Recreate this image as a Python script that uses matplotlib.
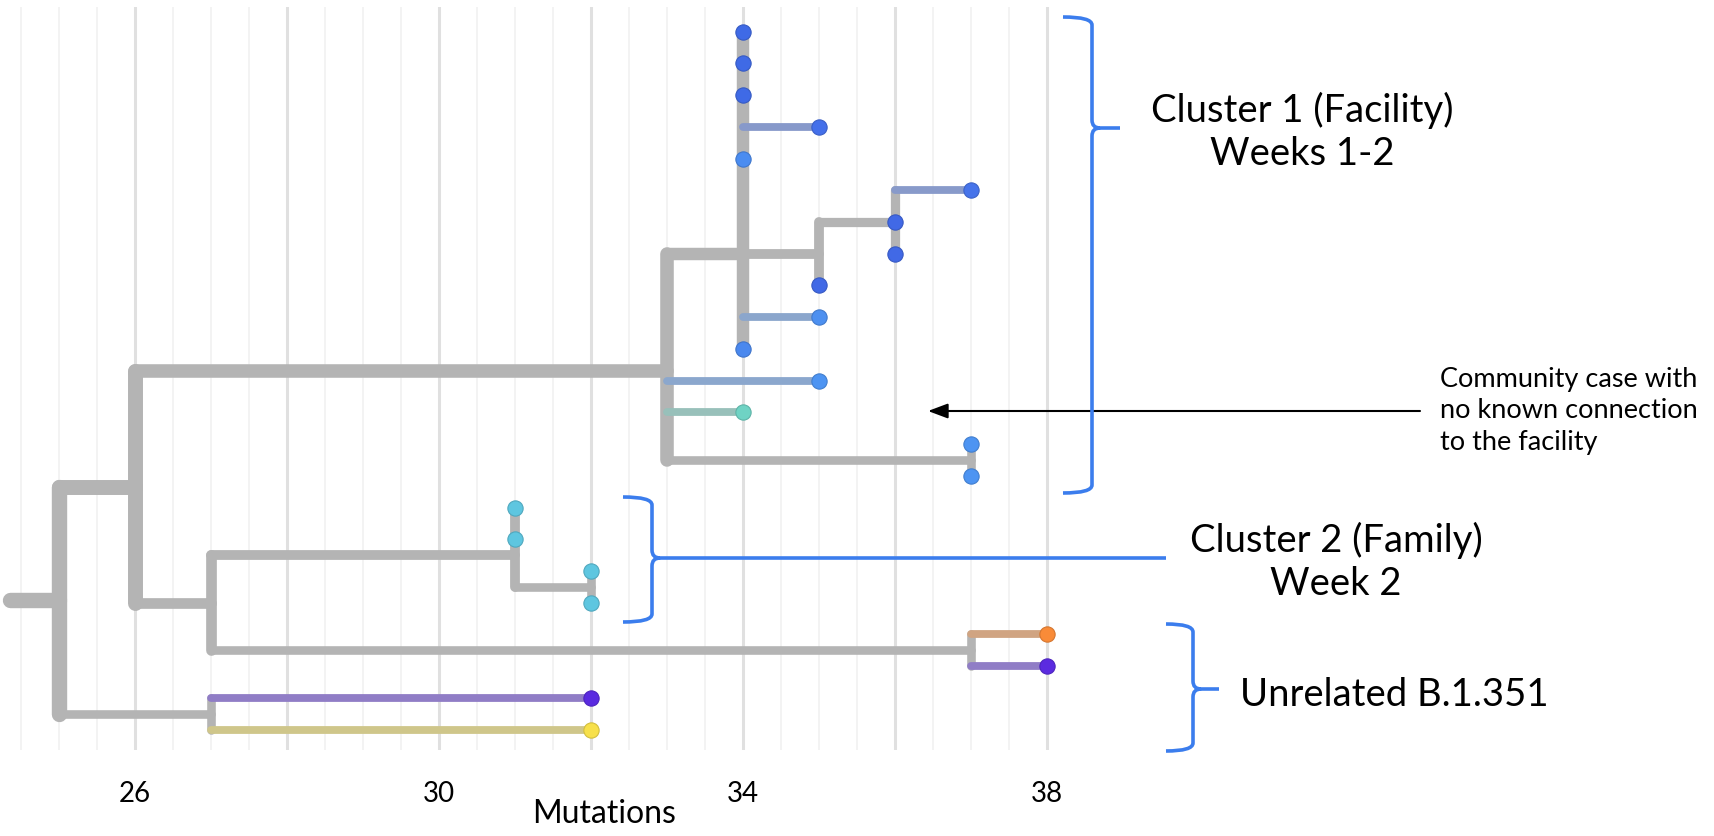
import numpy as np
import matplotlib
matplotlib.use('Agg')
import matplotlib.pyplot as plt
import matplotlib.transforms as mtransforms
from matplotlib.path import Path
from matplotlib.patches import PathPatch
from matplotlib.colors import to_rgb

plt.rcParams['font.family'] = ['Lato', 'DejaVu Sans']

# internal nodes of the tree (mutations from root, display row)
node_names = ['root', 'A', 'C1', 'C1a', 'C1b', 'C1c', 'C1d', 'B', 'C2', 'C2a', 'U1', 'U2']
node_parent = [None, 'root', 'A', 'C1', 'C1a', 'C1b', 'C1', 'A', 'B', 'C2', 'B', 'root']
node_mut = [25, 26, 33, 34, 35, 36, 37, 27, 31, 32, 37, 27]
node_row = [17.93, 14.35, 10.7, 7, 7, 6, 13.5, 18.0, 16.5, 17.5, 19.5, 21.5]
root_start = 24.35

# tips, top to bottom
tip_parent = ['C1a', 'C1a', 'C1a', 'C1a', 'C1a', 'C1c', 'C1c', 'C1c', 'C1b', 'C1a', 'C1a',
              'C1', 'C1', 'C1d', 'C1d', 'C2', 'C2', 'C2a', 'C2a', 'U1', 'U1', 'U2', 'U2']
tip_mut = [34, 34, 34, 35, 34, 37, 36, 36, 35, 35, 34, 35, 34, 37, 37,
           31, 31, 32, 32, 38, 38, 32, 32]
tip_color = ['#3f6ae6', '#3f6ae6', '#3f6ae6', '#4470ea', '#4a8cf0', '#4674ea', '#4169e6',
             '#4169e6', '#4169e6', '#4d90f0', '#4a88ee', '#4d94f2', '#6fd3c4', '#4d94f2',
             '#4d94f2', '#5ec6e0', '#5ec6e0', '#5ec6e0', '#5ec6e0', '#f98b38', '#5b2be0',
             '#5a2ae0', '#f7e04a']

tick_vals = [26, 30, 34, 38]

W, H = 1715, 836
GRAY = '#b4b4b4'
BLUE = '#3b7ded'

fig = plt.figure(figsize=(W / 100, H / 100), dpi=100)
ax = fig.add_axes([0, (H - 750) / H, 1, 743 / H])
ax.set_xlim(24.2197, 24.2197 + W / 76.0)
ax.set_ylim(22.645, -0.779)
for s in ax.spines.values():
    s.set_visible(False)
ax.set_yticks([])
ax.set_xticks(tick_vals)
ax.set_xticklabels([str(v) for v in tick_vals])
ax.tick_params(axis='x', length=0, labelsize=20, pad=22)
ax.set_xlabel('Mutations', fontsize=23)
ax.xaxis.set_label_coords(604 / W, -64 / 743)
ax.xaxis.label.set_va('center')

# grid
for g in np.arange(24.5, 38.01, 0.5):
    if g % 2 == 0:
        ax.axvline(g, color='#e0e0e0', lw=2.2, zorder=0)
    else:
        ax.axvline(g, color='#f1f1f1', lw=1.2, zorder=0)

# tree bookkeeping
idx = {n: i for i, n in enumerate(node_names)}
children = {n: [] for n in node_names}
for n, p in zip(node_names, node_parent):
    if p is not None:
        children[p].append(('node', n))
for t, p in enumerate(tip_parent):
    children[p].append(('tip', t))

def n_tips(n):
    c = 0
    for kind, k in children[n]:
        c += 1 if kind == 'tip' else n_tips(k)
    return c

def width(n):
    return (5.8 + 2.0 * np.sqrt(n)) * 0.72

def row_of(kind, k):
    return k if kind == 'tip' else node_row[idx[k]]

# gray internal branches
for n, p in zip(node_names, node_parent):
    i = idx[n]
    w = width(n_tips(n))
    x0 = root_start if p is None else node_mut[idx[p]]
    ax.plot([x0, node_mut[i]], [node_row[i], node_row[i]], color=GRAY, lw=w,
            solid_capstyle='round', zorder=2)
    rows = [row_of(kind, k) for kind, k in children[n]]
    ax.plot([node_mut[i], node_mut[i]], [min(rows), max(rows)], color=GRAY, lw=w,
            solid_capstyle='round', zorder=2)

# tip branches and dots
g = np.array(to_rgb(GRAY))
for t in range(len(tip_mut)):
    px = node_mut[idx[tip_parent[t]]]
    c = np.array(to_rgb(tip_color[t]))
    if tip_mut[t] > px:
        ax.plot([px, tip_mut[t]], [t, t], color=0.6 * g + 0.4 * c, lw=width(1),
                solid_capstyle='round', zorder=3)
    ax.plot(tip_mut[t], t, 'o', ms=11, color=c, mec=c * 0.85, mew=0.8, zorder=4)

# annotations in pixel coordinates (top-left origin)
T = mtransforms.Affine2D().scale(1 / W, -1 / H).translate(0, 1) + fig.transFigure

def brace(xa, xs, top, bot, cy, xc, r=8):
    verts = [(xa, top), (xs, top), (xs, top + r), (xs, cy - r), (xs, cy), (xs + r, cy),
             (xc, cy), (xs + r, cy), (xs, cy), (xs, cy + r), (xs, bot - r), (xs, bot), (xa, bot)]
    codes = [Path.MOVETO, Path.CURVE3, Path.CURVE3, Path.LINETO, Path.CURVE3, Path.CURVE3,
             Path.LINETO, Path.MOVETO, Path.CURVE3, Path.CURVE3, Path.LINETO, Path.CURVE3, Path.CURVE3]
    fig.add_artist(PathPatch(Path(verts, codes), fill=False, ec=BLUE, lw=2.6,
                             transform=T, capstyle='butt'))

brace(1063, 1092, 17, 493, 128, 1120)
brace(623, 652, 497, 622, 558, 1166)
brace(1166, 1193, 624, 751, 689, 1219)

fig.text(1302, 132, 'Cluster 1 (Facility)\nWeeks 1-2', transform=T, ha='center', va='center',
         ma='center', fontsize=27.5, linespacing=1.25)
fig.text(1336, 562, 'Cluster 2 (Family)\nWeek 2', transform=T, ha='center', va='center',
         ma='center', fontsize=27.5, linespacing=1.25)
fig.text(1394, 695, 'Unrelated B.1.351', transform=T, ha='center', va='center', fontsize=27.5)
fig.text(1440, 411, 'Community case with\nno known connection\nto the facility', transform=T,
         ha='left', va='center', fontsize=19.5, linespacing=1.31)
ax.annotate('', xy=(928, 411), xytext=(1420, 411), xycoords=T, textcoords=T,
            arrowprops=dict(arrowstyle='-|>,head_length=1.2,head_width=0.45', color='black',
                            lw=1.5, mutation_scale=10, shrinkA=0, shrinkB=0))

fig.savefig('out.png', dpi=100)
